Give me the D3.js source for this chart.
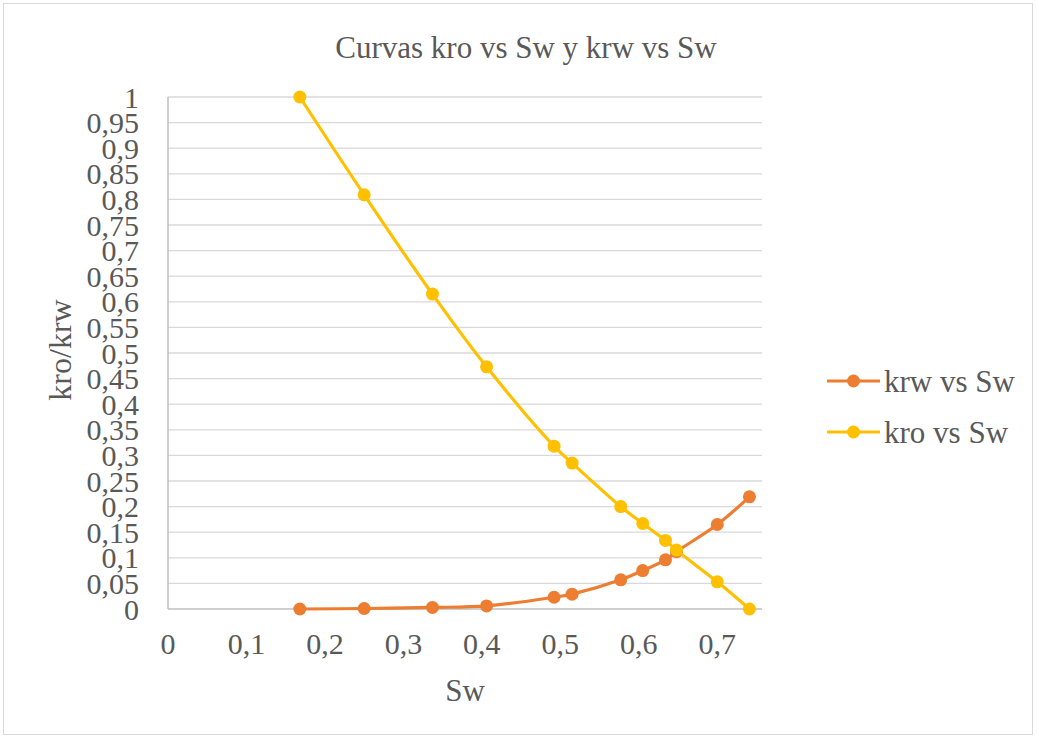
<!DOCTYPE html>
<html>
<head>
<meta charset="utf-8">
<script src="https://cdn.jsdelivr.net/npm/d3@7"></script>
<style>
  body { margin: 0; background: #fff; }
  text { font-family: "Liberation Serif", "Times New Roman", serif; fill: #595959; }
</style>
</head>
<body>
<div id="main"></div>
<script>
const ctx = {
    SVG_W: 1037,
    SVG_H: 737,
};

// water saturation (shared by both series)
const sw = [0.168, 0.250, 0.337, 0.406, 0.492, 0.515, 0.577, 0.605, 0.634, 0.648, 0.700, 0.741];
const krw = [0.000, 0.001, 0.003, 0.006, 0.023, 0.029, 0.057, 0.075, 0.096, 0.112, 0.165, 0.219];
const kro = [1.000, 0.809, 0.615, 0.473, 0.318, 0.285, 0.200, 0.167, 0.134, 0.115, 0.053, 0.000];

const xTicks = [0, 0.1, 0.2, 0.3, 0.4, 0.5, 0.6, 0.7];
const yTicks = d3.range(0, 21).map(i => i * 0.05);

const seriesNames = ["krw vs Sw", "kro vs Sw"];
const seriesColors = ["#ED7D31", "#FFC000"];

function fmt(v) {
    // comma decimal separator like the spanish Excel
    return String(+v.toFixed(2)).replace(".", ",");
}

function createViz() {
    let svgEl = d3.select("#main").append("svg")
        .attr("width", ctx.SVG_W)
        .attr("height", ctx.SVG_H);

    // outer chart border
    svgEl.append("rect")
        .attr("x", 3.5).attr("y", 3.5)
        .attr("width", 1029).attr("height", 731)
        .attr("fill", "#fff")
        .attr("stroke", "#d9d9d9");

    let x = d3.scaleLinear().domain([0, 0.757]).range([168, 762]);
    let y = d3.scaleLinear().domain([0, 1]).range([609, 97]);

    // horizontal gridlines
    svgEl.append("g")
        .selectAll("line")
        .data(yTicks.slice(1))
        .enter()
        .append("line")
        .attr("x1", x(0)).attr("x2", 762)
        .attr("y1", d => y(d)).attr("y2", d => y(d))
        .attr("stroke", "#d9d9d9")
        .attr("stroke-width", 1.3);

    // axes lines
    svgEl.append("line")
        .attr("x1", x(0)).attr("x2", x(0))
        .attr("y1", y(1)).attr("y2", y(0))
        .attr("stroke", "#bfbfbf").attr("stroke-width", 1.5);
    svgEl.append("line")
        .attr("x1", x(0)).attr("x2", 762)
        .attr("y1", y(0)).attr("y2", y(0))
        .attr("stroke", "#bfbfbf").attr("stroke-width", 1.5);

    // y tick labels
    svgEl.append("g")
        .selectAll("text")
        .data(yTicks)
        .enter()
        .append("text")
        .attr("x", 139)
        .attr("y", d => y(d))
        .attr("dy", "0.35em")
        .attr("text-anchor", "end")
        .attr("font-size", 30)
        .text(d => fmt(d));

    // x tick labels
    svgEl.append("g")
        .selectAll("text")
        .data(xTicks)
        .enter()
        .append("text")
        .attr("x", d => x(d))
        .attr("y", 643)
        .attr("dy", "0.35em")
        .attr("text-anchor", "middle")
        .attr("font-size", 30)
        .text(d => fmt(d));

    // titles
    svgEl.append("text")
        .attr("x", 526).attr("y", 47)
        .attr("dy", "0.35em")
        .attr("text-anchor", "middle")
        .attr("font-size", 31)
        .text("Curvas kro vs Sw y krw vs Sw");
    svgEl.append("text")
        .attr("x", 465).attr("y", 690)
        .attr("dy", "0.35em")
        .attr("text-anchor", "middle")
        .attr("font-size", 31)
        .text("Sw");
    svgEl.append("text")
        .attr("transform", "translate(60,350) rotate(-90)")
        .attr("dy", "0.35em")
        .attr("text-anchor", "middle")
        .attr("font-size", 32)
        .text("kro/krw");

    // series
    let series = [krw, kro].map((vals, i) => ({
        name: seriesNames[i],
        color: seriesColors[i],
        points: sw.map((s, j) => [s, vals[j]])
    }));

    let line = d3.line()
        .x(d => x(d[0]))
        .y(d => y(d[1]))
        .curve(d3.curveCatmullRom.alpha(0.5));

    let g = svgEl.append("g").selectAll("g")
        .data(series)
        .enter()
        .append("g");
    g.append("path")
        .attr("d", d => line(d.points))
        .attr("fill", "none")
        .attr("stroke", d => d.color)
        .attr("stroke-width", 3.2)
        .attr("stroke-linejoin", "round");
    g.selectAll("circle")
        .data(d => d.points.map(p => ({ p: p, color: d.color })))
        .enter()
        .append("circle")
        .attr("cx", d => x(d.p[0]))
        .attr("cy", d => y(d.p[1]))
        .attr("r", 6.5)
        .attr("fill", d => d.color);

    // legend
    let leg = svgEl.append("g").selectAll("g")
        .data(series)
        .enter()
        .append("g")
        .attr("transform", (d, i) => "translate(0," + (381 + i * 51) + ")");
    leg.append("line")
        .attr("x1", 827).attr("x2", 880)
        .attr("stroke", d => d.color)
        .attr("stroke-width", 3.2);
    leg.append("circle")
        .attr("cx", 853.5).attr("r", 6.5)
        .attr("fill", d => d.color);
    leg.append("text")
        .attr("x", 884)
        .attr("dy", "0.35em")
        .attr("font-size", 31)
        .text(d => d.name);
}

createViz();
</script>
</body>
</html>
